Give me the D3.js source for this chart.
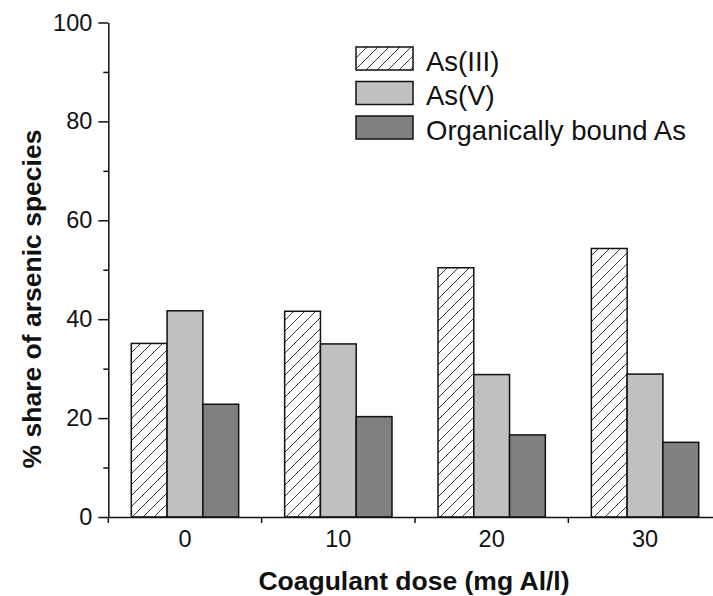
<!DOCTYPE html>
<html>
<head>
<meta charset="utf-8">
<script src="https://cdn.jsdelivr.net/npm/d3@7"></script>
<style>
  html, body { margin: 0; padding: 0; background: #fff; }
  svg { display: block; font-family: "Liberation Sans", Arial, sans-serif; }
</style>
</head>
<body>
<svg id="chart" width="713" height="596"></svg>
<script>
// Coagulant doses (mg Al/l) on the x axis
const doses = ["0", "10", "20", "30"];
// Share of each arsenic species (%) per dose
const asIII = [35.1, 41.6, 50.4, 54.3];
const asV = [41.7, 35.0, 28.8, 28.9];
const organicAs = [22.8, 20.3, 16.6, 15.1];
const seriesNames = ["As(III)", "As(V)", "Organically bound As"];
const yTicks = [0, 20, 40, 60, 80, 100];
const yMinorTicks = [10, 30, 50, 70, 90];

const series = [asIII, asV, organicAs];

const svg = d3.select("#chart");
const x0 = 108.3, x1 = 721.7, yTop = 22.5, yBot = 517;

const x = d3.scaleBand().domain(doses).range([x0, x1]).paddingInner(0).paddingOuter(0);
const groupW = x.bandwidth() * 0.70;
const xs = d3.scaleBand().domain(seriesNames).range([0, groupW]).padding(0);
const y = d3.scaleLinear().domain([0, 100]).range([yBot, yTop]);

// Hatch pattern for As(III)
const defs = svg.append("defs");
const pat = defs.append("pattern")
  .attr("id", "hatch").attr("patternUnits", "userSpaceOnUse")
  .attr("width", 11).attr("height", 11);
pat.append("rect").attr("width", 11).attr("height", 11).attr("fill", "#fff");
pat.append("path").attr("d", "M-1,12 L12,-1 M-3,3 L3,-3 M8,14 L14,8")
  .attr("stroke", "#222").attr("stroke-width", 0.9);

const fills = ["url(#hatch)", "#c0c0c0", "#808080"];

// Bars
series.forEach((vals, si) => {
  svg.append("g").selectAll("rect")
    .data(vals)
    .join("rect")
    .attr("x", (d, i) => x(doses[i]) + (x.bandwidth() - groupW) / 2 + xs(seriesNames[si]))
    .attr("y", d => y(d))
    .attr("width", xs.bandwidth())
    .attr("height", d => yBot - y(d))
    .attr("fill", fills[si])
    .attr("stroke", "#111")
    .attr("stroke-width", 1.5);
});

// Y axis
const yAxis = d3.axisLeft(y).tickValues(yTicks).tickSize(10).tickPadding(6).tickSizeOuter(0);
const gy = svg.append("g").attr("transform", `translate(${x0},0)`).call(yAxis);
gy.selectAll("text").attr("font-size", 23.5).attr("fill", "#111").attr("font-family", "Liberation Sans, Arial, sans-serif");
gy.select(".domain").attr("stroke", "#111").attr("stroke-width", 1.5);
gy.selectAll(".tick line").attr("stroke", "#111").attr("stroke-width", 1.5);
const yMinor = d3.axisLeft(y).tickValues(yMinorTicks).tickSize(5).tickFormat("");
const gym = svg.append("g").attr("transform", `translate(${x0},0)`).call(yMinor);
gym.select(".domain").remove();
gym.selectAll(".tick line").attr("stroke", "#111").attr("stroke-width", 1.5);

// X axis: labels at group centres, ticks at group boundaries
const xAxis = d3.axisBottom(x).tickSize(0).tickPadding(13).tickSizeOuter(0);
const gx = svg.append("g").attr("transform", `translate(0,${yBot})`).call(xAxis);
gx.select(".domain").attr("stroke", "#111").attr("stroke-width", 1.5);
gx.selectAll("text").attr("font-size", 23.5).attr("fill", "#111").attr("font-family", "Liberation Sans, Arial, sans-serif");
gx.selectAll(".tick line").remove();
svg.append("g").selectAll("line")
  .data(doses)
  .join("line")
  .attr("x1", d => x(d)).attr("x2", d => x(d))
  .attr("y1", yBot).attr("y2", yBot + 6)
  .attr("stroke", "#111").attr("stroke-width", 1.5);

// Axis titles
svg.append("text")
  .attr("x", (255 + 573) / 2).attr("y", 590)
  .attr("text-anchor", "middle").attr("font-weight", "bold").attr("font-size", 26.5)
  .attr("fill", "#111")
  .text("Coagulant dose (mg Al/l)");
svg.append("text")
  .attr("transform", "translate(41,299) rotate(-90)")
  .attr("text-anchor", "middle").attr("font-weight", "bold").attr("font-size", 26.5)
  .attr("fill", "#111")
  .text("% share of arsenic species");

// Legend
const lg = svg.append("g").attr("transform", "translate(356,47)");
seriesNames.forEach((name, i) => {
  const row = lg.append("g").attr("transform", `translate(0,${i * 34.5})`);
  row.append("rect").attr("width", 57).attr("height", 23)
    .attr("fill", fills[i]).attr("stroke", "#111").attr("stroke-width", 1.5);
  row.append("text").attr("x", 70).attr("y", 23.5)
    .attr("font-size", 27.5).attr("fill", "#111")
    .text(name);
});
</script>
</body>
</html>
